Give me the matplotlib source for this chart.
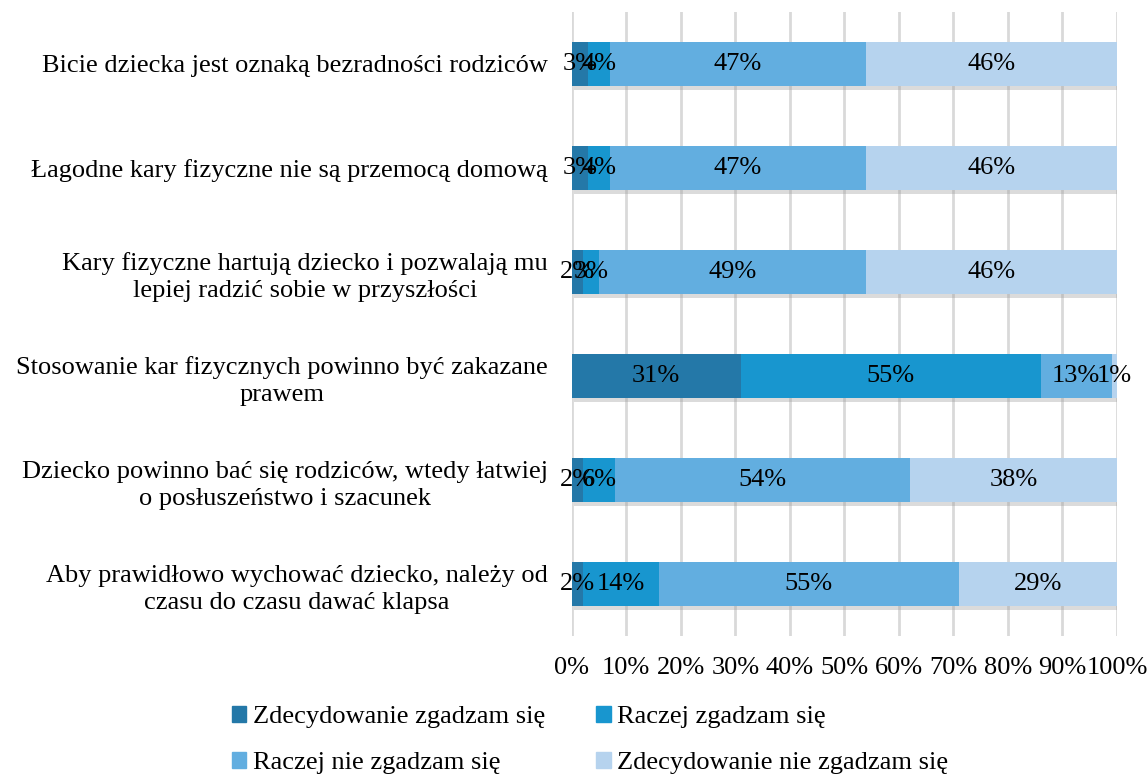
import matplotlib.pyplot as plt
import matplotlib.patheffects as pe
import numpy as np

plt.rcParams['font.family'] = ['Liberation Serif', 'DejaVu Serif']

# statements (top to bottom)
categories = [
    "Bicie dziecka jest oznaką bezradności rodziców",
    "Łagodne kary fizyczne nie są przemocą domową",
    "Kary fizyczne hartują dziecko i pozwalają mu\nlepiej radzić sobie w przyszłości",
    "Stosowanie kar fizycznych powinno być zakazane\nprawem",
    "Dziecko powinno bać się rodziców, wtedy łatwiej\no posłuszeństwo i szacunek",
    "Aby prawidłowo wychować dziecko, należy od\nczasu do czasu dawać klapsa",
]
zdecydowanie_tak = [3, 3, 2, 31, 2, 2]
raczej_tak = [4, 4, 3, 55, 6, 14]
raczej_nie = [47, 47, 49, 13, 54, 55]
zdecydowanie_nie = [46, 46, 46, 1, 38, 29]

series_names = ["Zdecydowanie zgadzam się", "Raczej zgadzam się",
                "Raczej nie zgadzam się", "Zdecydowanie nie zgadzam się"]
colors = ["#2478a8", "#1896cf", "#62aee0", "#b6d3ee"]

fig = plt.figure(figsize=(11.48, 7.78), dpi=100)
ax = fig.add_axes([0.498, 0.1825, 0.475, 0.8021])

y = np.arange(len(categories))
left = np.zeros(len(categories))
shadow = [pe.SimplePatchShadow(offset=(2, -3), shadow_rgbFace='#999999', alpha=0.35), pe.Normal()]
handles = []
for vals, name, col in zip([zdecydowanie_tak, raczej_tak, raczej_nie, zdecydowanie_nie], series_names, colors):
    bars = ax.barh(y, vals, left=left, height=0.42, color=col, label=name, zorder=3)
    for b in bars:
        b.set_path_effects(shadow)
    handles.append(plt.Rectangle((0, 0), 1, 1, color=col))
    for yi, l, v in zip(y, left, vals):
        ax.text(l + v / 2, yi, f"{v}%", ha='center', va='center', fontsize=19, zorder=5)
    left += np.array(vals)

ax.set_xlim(0, 100)
ax.set_ylim(len(categories) - 0.5, -0.5)
ax.set_xticks(np.arange(0, 101, 10))
ax.set_xticklabels([f"{t}%" for t in range(0, 101, 10)], fontsize=19)
ax.set_yticks(y)
ax.set_yticklabels(categories, fontsize=19, multialignment='center', linespacing=1.3)
ax.tick_params(axis='both', length=0)
ax.tick_params(axis='x', pad=15)
ax.tick_params(axis='y', pad=17)
for s in ax.spines.values():
    s.set_visible(False)
ax.grid(axis='x', color='#d9d9d9', linewidth=2, zorder=0)
ax.set_axisbelow(True)

# legend filled row by row, like the original
order = [0, 2, 1, 3]
fig.legend([handles[i] for i in order], [series_names[i] for i in order],
           loc='lower left', bbox_to_anchor=(0.181, -0.026), ncol=2, frameon=False,
           fontsize=19, handlelength=0.55, handleheight=0.55, handletextpad=0.25,
           columnspacing=1.95, labelspacing=0.9)

fig.savefig("out.png", dpi=100)
